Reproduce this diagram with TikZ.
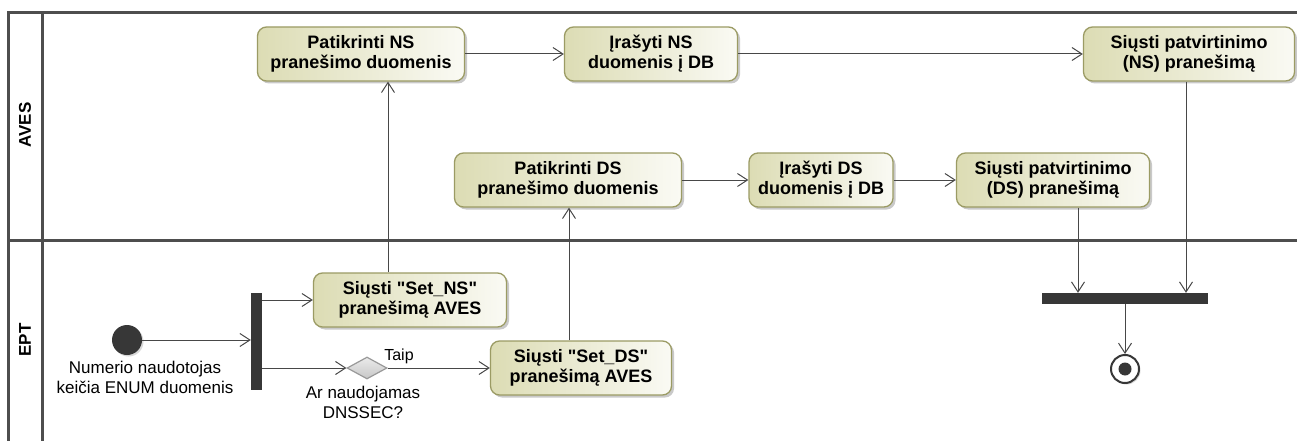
\documentclass[tikz,border=0pt]{standalone}
\usepackage{fontspec}
\setmainfont{Liberation Sans}[Ligatures=TeXOff]
\usetikzlibrary{arrows.meta,shadows,calc,shapes.geometric}
\definecolor{nodeA}{RGB}{220,220,180}
\definecolor{nodeB}{RGB}{250,250,244}
\definecolor{nodeBorder}{RGB}{155,155,100}
\definecolor{lineC}{RGB}{72,72,72}
\definecolor{laneC}{RGB}{78,78,78}
\definecolor{barC}{RGB}{55,55,55}
\tikzset{
  actbox/.style={draw=nodeBorder, line width=1.3pt, rounded corners=9pt,
    left color=nodeA, right color=nodeB, align=center, inner sep=0pt,
    minimum height=54pt,
    font=\fontsize{18}{20}\selectfont\bfseries,
    drop shadow={shadow xshift=2.5pt, shadow yshift=-2.5pt, fill=black!35, opacity=0.6}},
  arr/.style={draw=lineC, line width=1pt, -{Straight Barb[length=10pt,width=13pt,line width=1pt]}},
  conn/.style={draw=lineC, line width=1pt},
  lane/.style={draw=laneC, line width=3pt},
  barnode/.style={fill=barC, draw=none, inner sep=0pt},
  plain/.style={font=\fontsize{17}{20}\selectfont, align=center, inner sep=0pt},
  lanelabel/.style={font=\fontsize{17}{20}\selectfont\bfseries, rotate=90, inner sep=0pt}
}
\begin{document}
\begin{tikzpicture}[x=1pt,y=-1pt]
\useasboundingbox (0,0) rectangle (1297,441);
\fill[white] (0,0) rectangle (1297,441);
% lanes
\draw[lane] (1297,13) -- (8,13) -- (8,441);
\draw[lane] (42,13) -- (42,441);
\draw[lane] (8,240) -- (1297,240);
\node[lanelabel] (laneA) at (25,125) {AVES};
\node[lanelabel] (laneE) at (25,340) {EPT};
% action nodes
\node[actbox, minimum width=207pt] (patns) at (361,54) {Patikrinti NS\\pranešimo duomenis};
\node[actbox, minimum width=173pt] (irns) at (651,54) {Įrašyti NS\\duomenis į DB};
\node[actbox, minimum width=211pt] (sntns) at (1189,54) {Siųsti patvirtinimo\\(NS) pranešimą};
\node[actbox, minimum width=227pt] (patds) at (568,180) {Patikrinti DS\\pranešimo duomenis};
\node[actbox, minimum width=144pt] (irds) at (821,180) {Įrašyti DS\\duomenis į DB};
\node[actbox, minimum width=193pt] (sntds) at (1053,180) {Siųsti patvirtinimo\\(DS) pranešimą};
\node[actbox, minimum width=193pt] (setns) at (410,300) {Siųsti "Set\_NS"\\pranešimą AVES};
\node[actbox, minimum width=181pt] (setds) at (581,368) {Siųsti "Set\_DS"\\pranešimą AVES};
% initial
\node[circle, fill=barC, minimum size=30pt, inner sep=0pt,
  drop shadow={shadow xshift=1.5pt, shadow yshift=-1.5pt, fill=black!30, opacity=0.5}] (init) at (127,340) {};
\node[plain] (initlbl) at (145,377) {Numerio naudotojas\\keičia ENUM duomenis};
% fork
\node[barnode, minimum width=11pt, minimum height=97pt] (fork) at (256.5,341.5) {};
% decision
\node[draw=black!40, line width=1.2pt, top color=black!8, bottom color=black!22,
  shape=diamond, aspect=1.8, minimum width=40pt, minimum height=22pt, inner sep=0pt] (dec) at (367,368) {};
\node[plain, font=\fontsize{16}{20}\selectfont] (taip) at (399,356) {Taip};
\node[plain] (declbl) at (363,402) {Ar naudojamas\\DNSSEC?};
% join
\node[barnode, minimum width=166pt, minimum height=11pt] (join) at (1125,298.5) {};
% final
\node[circle, draw=barC, line width=2pt, fill=white, minimum size=28pt, inner sep=0pt,
  drop shadow={shadow xshift=1.5pt, shadow yshift=-1.5pt, fill=black!30, opacity=0.5}] (fin) at (1125,369) {};
\node[circle, fill=barC, minimum size=13pt, inner sep=0pt] (findot) at (fin.center) {};
% helper coordinates
\coordinate (xns) at (388,0);
\coordinate (xds) at (569,0);
\coordinate (xj1) at (1078,0);
\coordinate (xj2) at (1186,0);
% connectors
\draw[arr] (init) -- (fork.west |- init);
\draw[arr] (fork.east |- setns) -- (setns.west);
\draw[arr] (fork.east |- dec) -- (dec.west);
\draw[arr] (dec.east) -- (setds.west);
\draw[arr] (setns.north -| xns) -- (patns.south -| xns);
\draw[arr] (setds.north -| xds) -- (patds.south -| xds);
\draw[arr] (patns.east) -- (irns.west);
\draw[arr] (irns.east) -- (sntns.west);
\draw[arr] (patds.east) -- (irds.west);
\draw[arr] (irds.east) -- (sntds.west);
\draw[arr] (sntds.south -| xj1) -- (join.north -| xj1);
\draw[arr] (sntns.south -| xj2) -- (join.north -| xj2);
\draw[arr] (join.south) -- (fin.north);
\end{tikzpicture}
\end{document}
